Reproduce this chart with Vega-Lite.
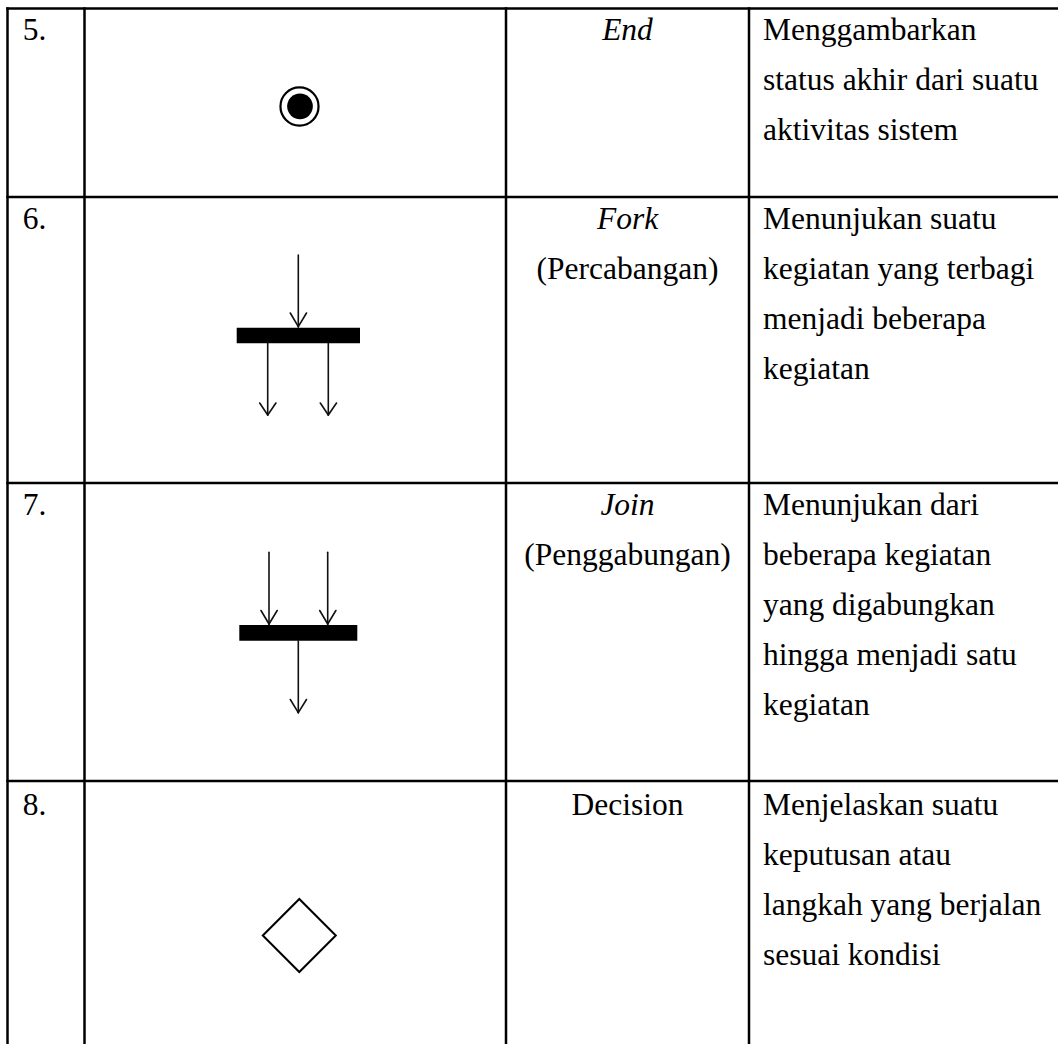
{
  "$schema": "https://vega.github.io/schema/vega-lite/v6.json",
  "width": 1058,
  "height": 1044,
  "padding": 0,
  "autosize": {"type": "none"},
  "background": "white",
  "config": {"view": {"stroke": null}},
  "datasets": {
    "grid": [
      {"x": 6.3, "y": 8.5, "x2": 1058, "y2": 8.5},
      {"x": 6.3, "y": 197, "x2": 1058, "y2": 197},
      {"x": 6.3, "y": 483, "x2": 1058, "y2": 483},
      {"x": 6.3, "y": 781, "x2": 1058, "y2": 781},
      {"x": 7.5, "y": 7.3, "x2": 7.5, "y2": 1044},
      {"x": 84.5, "y": 7.3, "x2": 84.5, "y2": 1044},
      {"x": 506, "y": 7.3, "x2": 506, "y2": 1044},
      {"x": 749, "y": 7.3, "x2": 749, "y2": 1044}
    ],
    "bars": [
      {"x": 236.7, "x2": 360, "y": 327.7, "y2": 343.3},
      {"x": 239.3, "x2": 357.3, "y": 625, "y2": 640.7}
    ],
    "arrows": [
      {"x": 298.3, "y": 255, "x2": 298.3, "y2": 327},
      {"x": 290.3, "y": 313, "x2": 298.3, "y2": 326.7},
      {"x": 306.5, "y": 313, "x2": 298.3, "y2": 326.7},
      {"x": 267.7, "y": 343, "x2": 267.7, "y2": 415},
      {"x": 259.7, "y": 403, "x2": 267.7, "y2": 415},
      {"x": 275.9, "y": 403, "x2": 267.7, "y2": 415},
      {"x": 328.3, "y": 343, "x2": 328.3, "y2": 415},
      {"x": 320.3, "y": 403, "x2": 328.3, "y2": 415},
      {"x": 336.5, "y": 403, "x2": 328.3, "y2": 415},
      {"x": 269, "y": 552.3, "x2": 269, "y2": 624.5},
      {"x": 261, "y": 610.5, "x2": 269, "y2": 624},
      {"x": 277.2, "y": 610.5, "x2": 269, "y2": 624},
      {"x": 327.7, "y": 552.3, "x2": 327.7, "y2": 624.5},
      {"x": 319.7, "y": 610.5, "x2": 327.7, "y2": 624},
      {"x": 335.9, "y": 610.5, "x2": 327.7, "y2": 624},
      {"x": 298.3, "y": 640.7, "x2": 298.3, "y2": 712.7},
      {"x": 290.3, "y": 699.5, "x2": 298.3, "y2": 712.7},
      {"x": 306.5, "y": 699.5, "x2": 298.3, "y2": 712.7}
    ],
    "ring": [{"x": 299.5, "y": 106.5}],
    "dot": [{"x": 300, "y": 106.3}],
    "diamond": [{"x": 299.3, "y": 935.5}],
    "numbers": [
      {"x": 22.7, "y": 40, "t": "5."},
      {"x": 22.7, "y": 228.5, "t": "6."},
      {"x": 22.7, "y": 514.5, "t": "7."},
      {"x": 22.7, "y": 814.5, "t": "8."}
    ],
    "namesItalic": [
      {"x": 627.5, "y": 40, "t": "End"},
      {"x": 627.5, "y": 228.5, "t": "Fork"},
      {"x": 627.5, "y": 514.5, "t": "Join"}
    ],
    "namesNormal": [
      {"x": 627.5, "y": 278.5, "t": "(Percabangan)"},
      {"x": 627.5, "y": 564.5, "t": "(Penggabungan)"},
      {"x": 627.5, "y": 814.5, "t": "Decision"}
    ],
    "desc": [
      {"x": 763, "y": 40, "t": "Menggambarkan"},
      {"x": 763, "y": 90, "t": "status akhir dari suatu"},
      {"x": 763, "y": 140, "t": "aktivitas sistem"},
      {"x": 763, "y": 228.5, "t": "Menunjukan suatu"},
      {"x": 763, "y": 278.5, "t": "kegiatan yang terbagi"},
      {"x": 763, "y": 328.5, "t": "menjadi beberapa"},
      {"x": 763, "y": 378.5, "t": "kegiatan"},
      {"x": 763, "y": 514.5, "t": "Menunjukan dari"},
      {"x": 763, "y": 564.5, "t": "beberapa kegiatan"},
      {"x": 763, "y": 614.5, "t": "yang digabungkan"},
      {"x": 763, "y": 664.5, "t": "hingga menjadi satu"},
      {"x": 763, "y": 714.5, "t": "kegiatan"},
      {"x": 763, "y": 814.5, "t": "Menjelaskan suatu"},
      {"x": 763, "y": 864.5, "t": "keputusan atau"},
      {"x": 763, "y": 914.5, "t": "langkah yang berjalan"},
      {"x": 763, "y": 964.5, "t": "sesuai kondisi"}
    ]
  },
  "encoding": {
    "x": {"field": "x", "type": "quantitative", "scale": {"domain": [0, 1058], "nice": false, "zero": false}, "axis": null},
    "y": {"field": "y", "type": "quantitative", "scale": {"domain": [0, 1044], "reverse": true, "nice": false, "zero": false}, "axis": null}
  },
  "layer": [
    {
      "data": {"name": "grid"},
      "mark": {"type": "rule", "color": "black", "strokeWidth": 2.5},
      "encoding": {"x2": {"field": "x2"}, "y2": {"field": "y2"}}
    },
    {
      "data": {"name": "bars"},
      "mark": {"type": "rect", "color": "black"},
      "encoding": {"x2": {"field": "x2"}, "y2": {"field": "y2"}}
    },
    {
      "data": {"name": "arrows"},
      "mark": {"type": "rule", "color": "#111", "strokeWidth": 1.6, "strokeCap": "round"},
      "encoding": {"x2": {"field": "x2"}, "y2": {"field": "y2"}}
    },
    {
      "data": {"name": "ring"},
      "mark": {"type": "point", "shape": "circle", "filled": false, "color": "black", "size": 1450, "strokeWidth": 2.2, "opacity": 1}
    },
    {
      "data": {"name": "dot"},
      "mark": {"type": "point", "shape": "circle", "filled": true, "color": "black", "size": 660, "opacity": 1}
    },
    {
      "data": {"name": "diamond"},
      "mark": {"type": "point", "shape": "diamond", "filled": false, "color": "black", "size": 5330, "strokeWidth": 2, "opacity": 1}
    },
    {
      "data": {"name": "numbers"},
      "mark": {"type": "text", "font": "Liberation Serif", "fontSize": 31.5, "align": "left", "baseline": "alphabetic", "color": "black"},
      "encoding": {"text": {"field": "t"}}
    },
    {
      "data": {"name": "namesItalic"},
      "mark": {"type": "text", "font": "Liberation Serif", "fontSize": 31.5, "fontStyle": "italic", "align": "center", "baseline": "alphabetic", "color": "black"},
      "encoding": {"text": {"field": "t"}}
    },
    {
      "data": {"name": "namesNormal"},
      "mark": {"type": "text", "font": "Liberation Serif", "fontSize": 31.5, "align": "center", "baseline": "alphabetic", "color": "black"},
      "encoding": {"text": {"field": "t"}}
    },
    {
      "data": {"name": "desc"},
      "mark": {"type": "text", "font": "Liberation Serif", "fontSize": 31.5, "align": "left", "baseline": "alphabetic", "color": "black"},
      "encoding": {"text": {"field": "t"}}
    }
  ]
}
